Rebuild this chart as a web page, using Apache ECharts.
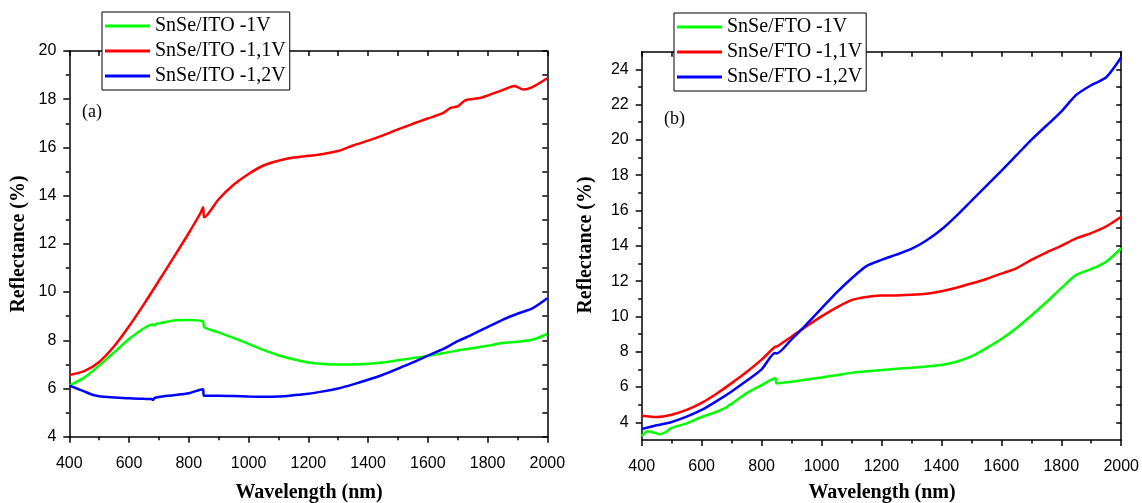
<!DOCTYPE html>
<html>
<head>
<meta charset="utf-8">
<title>Reflectance spectra of SnSe films</title>
<script src="https://cdn.jsdelivr.net/npm/echarts@6/dist/echarts.min.js"></script>
<style>
  html, body { margin: 0; padding: 0; background: #fff; }
  #chart { width: 1142px; height: 503px; }
</style>
</head>
<body>
<div id="chart"></div>
<script>
// ---- Data: [wavelength (nm), reflectance (%)] ----
// (a) SnSe deposited on ITO
const itoNeg10 = [
  [400, 6.12], [450, 6.45], [500, 6.95], [550, 7.5], [600, 8.05], [650, 8.5],
  [680, 8.65], [685, 8.61], [690, 8.68], [700, 8.7], [750, 8.82], [800, 8.84],
  [847, 8.78], [852, 8.54], [900, 8.33], [950, 8.1], [1000, 7.85], [1050, 7.6],
  [1100, 7.38], [1150, 7.21], [1200, 7.08], [1250, 7.02], [1300, 6.99], [1350, 7.0],
  [1400, 7.03], [1450, 7.08], [1500, 7.17], [1550, 7.26], [1600, 7.35], [1650, 7.46],
  [1700, 7.58], [1750, 7.67], [1800, 7.77], [1850, 7.89], [1900, 7.94], [1950, 8.02],
  [2000, 8.26]
];
const itoNeg11 = [
  [400, 6.56], [450, 6.72], [500, 7.1], [550, 7.75], [600, 8.58], [650, 9.5],
  [700, 10.47], [750, 11.45], [800, 12.45], [840, 13.3], [848, 13.52], [852, 13.1],
  [900, 13.85], [950, 14.45], [1000, 14.9], [1050, 15.25], [1100, 15.45], [1150, 15.58],
  [1200, 15.65], [1250, 15.73], [1300, 15.85], [1350, 16.08], [1400, 16.28], [1450, 16.5],
  [1500, 16.75], [1550, 16.98], [1600, 17.2], [1650, 17.42], [1675, 17.63], [1700, 17.7],
  [1725, 17.95], [1775, 18.05], [1800, 18.15], [1850, 18.38], [1890, 18.55], [1920, 18.4],
  [1950, 18.5], [2000, 18.87]
];
const itoNeg12 = [
  [400, 6.12], [425, 6.0], [450, 5.88], [475, 5.75], [500, 5.68], [550, 5.63],
  [600, 5.59], [650, 5.57], [676, 5.56], [680, 5.52], [685, 5.6], [700, 5.65],
  [750, 5.72], [800, 5.8], [847, 5.97], [851, 5.7], [900, 5.7], [950, 5.69],
  [1000, 5.67], [1050, 5.66], [1100, 5.67], [1150, 5.72], [1200, 5.78], [1250, 5.88],
  [1300, 6.0], [1350, 6.17], [1400, 6.36], [1450, 6.57], [1500, 6.82], [1550, 7.08],
  [1600, 7.36], [1650, 7.63], [1700, 7.96], [1750, 8.24], [1800, 8.55], [1850, 8.85],
  [1900, 9.1], [1950, 9.32], [2000, 9.74]
];

// (b) SnSe deposited on FTO
const ftoNeg10 = [
  [400, 3.22], [420, 3.5], [440, 3.42], [460, 3.32], [480, 3.45], [500, 3.68],
  [550, 3.94], [600, 4.3], [650, 4.6], [680, 4.82], [690, 4.95], [700, 5.05],
  [750, 5.65], [800, 6.1], [846, 6.49], [850, 6.21], [900, 6.3], [950, 6.42],
  [1000, 6.54], [1050, 6.67], [1100, 6.8], [1150, 6.89], [1200, 6.96], [1250, 7.03],
  [1300, 7.09], [1350, 7.16], [1400, 7.25], [1450, 7.43], [1500, 7.73], [1550, 8.2],
  [1600, 8.72], [1650, 9.33], [1700, 10.05], [1750, 10.8], [1800, 11.6], [1850, 12.35],
  [1900, 12.68], [1950, 13.1], [2000, 13.86]
];
const ftoNeg11 = [
  [400, 4.37], [450, 4.3], [500, 4.43], [550, 4.7], [600, 5.1], [650, 5.62],
  [700, 6.22], [750, 6.85], [800, 7.55], [845, 8.28], [852, 8.3], [900, 8.85],
  [950, 9.44], [1000, 10.0], [1050, 10.5], [1100, 10.92], [1150, 11.1], [1200, 11.18],
  [1250, 11.19], [1300, 11.22], [1350, 11.28], [1400, 11.42], [1450, 11.62], [1500, 11.86],
  [1550, 12.12], [1600, 12.42], [1650, 12.72], [1700, 13.2], [1750, 13.62], [1800, 14.0],
  [1850, 14.42], [1900, 14.72], [1950, 15.1], [2000, 15.65]
];
const ftoNeg12 = [
  [400, 3.62], [450, 3.83], [500, 4.02], [550, 4.32], [600, 4.7], [650, 5.2],
  [700, 5.75], [750, 6.35], [800, 7.0], [845, 7.92], [850, 7.9], [900, 8.7],
  [950, 9.55], [1000, 10.45], [1050, 11.35], [1100, 12.15], [1150, 12.85], [1200, 13.2],
  [1250, 13.5], [1300, 13.82], [1350, 14.3], [1400, 14.92], [1450, 15.7], [1500, 16.55],
  [1550, 17.4], [1600, 18.25], [1650, 19.12], [1700, 20.0], [1750, 20.8], [1800, 21.6],
  [1850, 22.55], [1900, 23.1], [1950, 23.55], [2000, 24.68]
];

const itoNames = ['SnSe/ITO -1V', 'SnSe/ITO -1,1V', 'SnSe/ITO -1,2V'];
const ftoNames = ['SnSe/FTO -1V', 'SnSe/FTO -1,1V', 'SnSe/FTO -1,2V'];
const seriesColors = ['#00ff00', '#ff0000', '#0000ff'];

// Tick values for the (b) reflectance axis (range 3..25, labels on even values)
const ftoMajorTicks = [4, 6, 8, 10, 12, 14, 16, 18, 20, 22, 24];
const ftoMinorTicks = [5, 7, 9, 11, 13, 15, 17, 19, 21, 23];

// ---- Styling helpers ----
const AXIS_COLOR = '#000';
const sansFont = '"Liberation Sans", Arial, sans-serif';
const serifFont = '"Liberation Serif", "Times New Roman", serif';

const axisLine = { show: true, lineStyle: { color: AXIS_COLOR, width: 1.5 } };
const plainNumber = (v) => String(v);
const tickLabel = { color: '#000', fontFamily: sansFont, fontSize: 16, formatter: plainNumber };
const tickStyle = { color: AXIS_COLOR, width: 1.5 };

function xAxisPair(gridIndex) {
  const base = {
    type: 'value', gridIndex, min: 400, max: 2000, interval: 200,
    axisLine, splitLine: { show: false }
  };
  return [
    Object.assign({}, base, {
      position: 'bottom',
      axisTick: { show: true, length: 6, lineStyle: tickStyle },
      minorTick: { show: true, splitNumber: 2, length: 3.5, lineStyle: tickStyle },
      axisLabel: Object.assign({ margin: 19 }, tickLabel)
    }),
    Object.assign({}, base, {
      position: 'top',
      axisTick: { show: true, inside: true, length: 5, lineStyle: tickStyle },
      minorTick: { show: true, splitNumber: 2, length: 5, lineStyle: tickStyle },
      axisLabel: { show: false }
    })
  ];
}

const yAxes = [
  // (a) left
  {
    type: 'value', gridIndex: 0, position: 'left', min: 4, max: 20, interval: 2,
    axisLine, splitLine: { show: false },
    axisTick: { show: true, length: 6, lineStyle: tickStyle },
    minorTick: { show: true, splitNumber: 2, length: 3.5, lineStyle: tickStyle },
    axisLabel: Object.assign({ margin: 13 }, tickLabel)
  },
  // (a) right mirror
  {
    type: 'value', gridIndex: 0, position: 'right', min: 4, max: 20, interval: 2,
    axisLine, splitLine: { show: false },
    axisTick: { show: true, inside: true, length: 5, lineStyle: tickStyle },
    minorTick: { show: true, splitNumber: 2, length: 5, lineStyle: tickStyle },
    axisLabel: { show: false }
  },
  // (b) left, major ticks + labels
  {
    type: 'value', gridIndex: 1, position: 'left', min: 3, max: 25,
    axisLine, splitLine: { show: false },
    axisTick: { show: true, length: 6, lineStyle: tickStyle, customValues: ftoMajorTicks },
    axisLabel: Object.assign({ margin: 13, customValues: ftoMajorTicks }, tickLabel)
  },
  // (b) left, minor ticks
  {
    type: 'value', gridIndex: 1, position: 'left', min: 3, max: 25,
    axisLine: { show: false }, splitLine: { show: false },
    axisTick: { show: true, length: 3.5, lineStyle: tickStyle, customValues: ftoMinorTicks },
    axisLabel: { show: false }
  },
  // (b) right mirror, major
  {
    type: 'value', gridIndex: 1, position: 'right', min: 3, max: 25,
    axisLine, splitLine: { show: false },
    axisTick: { show: true, inside: true, length: 5, lineStyle: tickStyle, customValues: ftoMajorTicks },
    axisLabel: { show: false }
  },
  // (b) right mirror, minor
  {
    type: 'value', gridIndex: 1, position: 'right', min: 3, max: 25,
    axisLine: { show: false }, splitLine: { show: false },
    axisTick: { show: true, inside: true, length: 5, lineStyle: tickStyle, customValues: ftoMinorTicks },
    axisLabel: { show: false }
  }
];

function lineSeries(name, data, color, xAxisIndex, yAxisIndex) {
  return {
    type: 'line', name, data, xAxisIndex, yAxisIndex,
    showSymbol: false, symbol: 'none',
    smooth: 0.25,
    lineStyle: { color, width: 2.5 },
    itemStyle: { color },
    emphasis: { disabled: true },
    animation: false, z: 3
  };
}

function legendBox(names, left, top) {
  return {
    data: names, orient: 'vertical', left, top,
    icon: 'rect', itemWidth: 45, itemHeight: 3, itemGap: 3,
    padding: [3, 4, 3, 3],
    borderColor: '#000', borderWidth: 1, backgroundColor: '#fff',
    selectedMode: false, z: 10,
    textStyle: { fontFamily: serifFont, fontSize: 20, color: '#000', lineHeight: 22 }
  };
}

const titleFont = { fontFamily: serifFont, fontSize: 20, fontWeight: 'bold', fill: '#000' };

const option = {
  backgroundColor: '#fff',
  animation: false,
  grid: [
    { left: 69.3, top: 51, width: 478, height: 385.7 },
    { left: 641.7, top: 51.65, width: 481.6, height: 388.3 }
  ],
  xAxis: [...xAxisPair(0), ...xAxisPair(1)],
  yAxis: yAxes,
  legend: [legendBox(itoNames, 102, 12), legendBox(ftoNames, 674, 13)],
  series: [
    lineSeries(itoNames[0], itoNeg10, seriesColors[0], 0, 0),
    lineSeries(itoNames[1], itoNeg11, seriesColors[1], 0, 0),
    lineSeries(itoNames[2], itoNeg12, seriesColors[2], 0, 0),
    lineSeries(ftoNames[0], ftoNeg10, seriesColors[0], 2, 2),
    lineSeries(ftoNames[1], ftoNeg11, seriesColors[1], 2, 2),
    lineSeries(ftoNames[2], ftoNeg12, seriesColors[2], 2, 2)
  ],
  graphic: [
    { type: 'text', x: 82, y: 112, z: 20,
      style: { text: '(a)', fontFamily: serifFont, fontSize: 18, fill: '#000', align: 'left', verticalAlign: 'middle' } },
    { type: 'text', x: 664, y: 119, z: 20,
      style: { text: '(b)', fontFamily: serifFont, fontSize: 18, fill: '#000', align: 'left', verticalAlign: 'middle' } },
    { type: 'text', x: 18.5, y: 244, rotation: Math.PI / 2, z: 20,
      style: Object.assign({ text: 'Reflectance (%)', align: 'center', verticalAlign: 'middle' }, titleFont) },
    { type: 'text', x: 586, y: 245, rotation: Math.PI / 2, z: 20,
      style: Object.assign({ text: 'Reflectance (%)', align: 'center', verticalAlign: 'middle' }, titleFont) },
    { type: 'text', x: 309, y: 493, z: 20,
      style: Object.assign({ text: 'Wavelength (nm)', align: 'center', verticalAlign: 'middle' }, titleFont) },
    { type: 'text', x: 882, y: 493, z: 20,
      style: Object.assign({ text: 'Wavelength (nm)', align: 'center', verticalAlign: 'middle' }, titleFont) }
  ]
};

const chart = echarts.init(document.getElementById('chart'), null, { renderer: 'canvas' });
chart.setOption(option);
</script>
</body>
</html>
